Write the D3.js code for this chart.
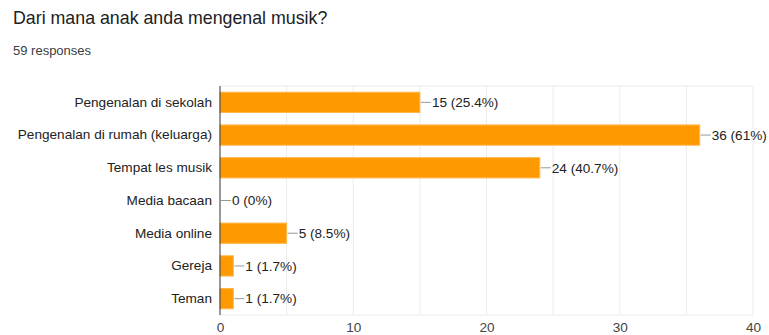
<!DOCTYPE html>
<html lang="en">
<head>
    <meta charset="UTF-8">
    <title>Dari mana anak anda mengenal musik?</title>
    <script src="https://d3js.org/d3.v7.min.js"></script>
    <style>
        body { margin: 0; background: #fff; }
        svg { display: block; font-family: "Liberation Sans", Arial, sans-serif; }
    </style>
</head>
<body>
    <svg id="chart" width="769" height="335"></svg>
    <script>
        const categories = ["Pengenalan di sekolah", "Pengenalan di rumah (keluarga)", "Tempat les musik",
            "Media bacaan", "Media online", "Gereja", "Teman"];
        const counts = [15, 36, 24, 0, 5, 1, 1];
        const percents = ["25.4%", "61%", "40.7%", "0%", "8.5%", "1.7%", "1.7%"];
        const xTicks = [0, 10, 20, 30, 40];
        const total = 59;

        const svg = d3.select("#chart");
        const margin = { top: 86, right: 16, bottom: 20, left: 220 };
        const width = 753 - margin.left, height = 315 - margin.top;
        const fs = 13.6;

        // title block
        svg.append("text").attr("x", 13).attr("y", 24)
            .attr("font-size", 17.8).attr("fill", "#202124")
            .text("Dari mana anak anda mengenal musik?");
        svg.append("text").attr("x", 13).attr("y", 55)
            .attr("font-size", 13).attr("fill", "#3c4043")
            .text(total + " responses");

        const g = svg.append("g").attr("transform", `translate(${margin.left},${margin.top})`);

        const x = d3.scaleLinear().domain([0, 40]).range([0, width]);
        const y = d3.scaleBand().domain(categories).range([0, height]).paddingInner(0.38).paddingOuter(0.19);

        // gridlines every 5
        g.selectAll("line.grid").data(d3.range(5, 41, 5)).join("line")
            .attr("class", "grid")
            .attr("x1", d => x(d)).attr("x2", d => x(d))
            .attr("y1", 0).attr("y2", height)
            .attr("stroke", "#ebebeb");
        g.append("line").attr("x1", 0).attr("x2", width).attr("y1", 0).attr("y2", 0).attr("stroke", "#ebebeb");
        g.append("line").attr("x1", 0).attr("x2", width).attr("y1", height).attr("y2", height).attr("stroke", "#ebebeb");

        // x tick labels
        const xAxis = g.append("g").attr("transform", `translate(0,${height})`)
            .call(d3.axisBottom(x).tickValues(xTicks).tickSize(0).tickPadding(7));
        xAxis.select(".domain").remove();
        xAxis.selectAll("text").attr("font-size", fs).attr("fill", "#444").attr("font-family", "Liberation Sans, Arial, sans-serif");

        // category labels
        const yAxis = g.append("g")
            .call(d3.axisLeft(y).tickSize(0).tickPadding(8));
        yAxis.select(".domain").remove();
        yAxis.selectAll("text").attr("font-size", fs).attr("fill", "#222").attr("font-family", "Liberation Sans, Arial, sans-serif");

        // bars
        g.selectAll("rect.bar").data(counts).join("rect")
            .attr("class", "bar")
            .attr("x", x(0))
            .attr("y", (d, i) => y(categories[i]))
            .attr("width", d => x(d))
            .attr("height", y.bandwidth())
            .attr("fill", "#ff9900")
            .attr("stroke", "#ffb74d").attr("stroke-width", 1);

        // leader lines and value labels
        g.selectAll("line.lead").data(counts).join("line")
            .attr("class", "lead")
            .attr("x1", d => x(d) + 1).attr("x2", d => x(d) + 11)
            .attr("y1", (d, i) => y(categories[i]) + y.bandwidth() / 2)
            .attr("y2", (d, i) => y(categories[i]) + y.bandwidth() / 2)
            .attr("stroke", "#999");
        g.selectAll("text.val").data(counts).join("text")
            .attr("class", "val")
            .attr("x", d => x(d) + 12)
            .attr("y", (d, i) => y(categories[i]) + y.bandwidth() / 2)
            .attr("dy", "0.35em")
            .attr("font-size", fs).attr("fill", "#222")
            .text((d, i) => `${d} (${percents[i]})`);

        // vertical axis line
        g.append("line").attr("x1", 0).attr("x2", 0).attr("y1", 0).attr("y2", height)
            .attr("stroke", "#333");
    </script>
</body>
</html>
